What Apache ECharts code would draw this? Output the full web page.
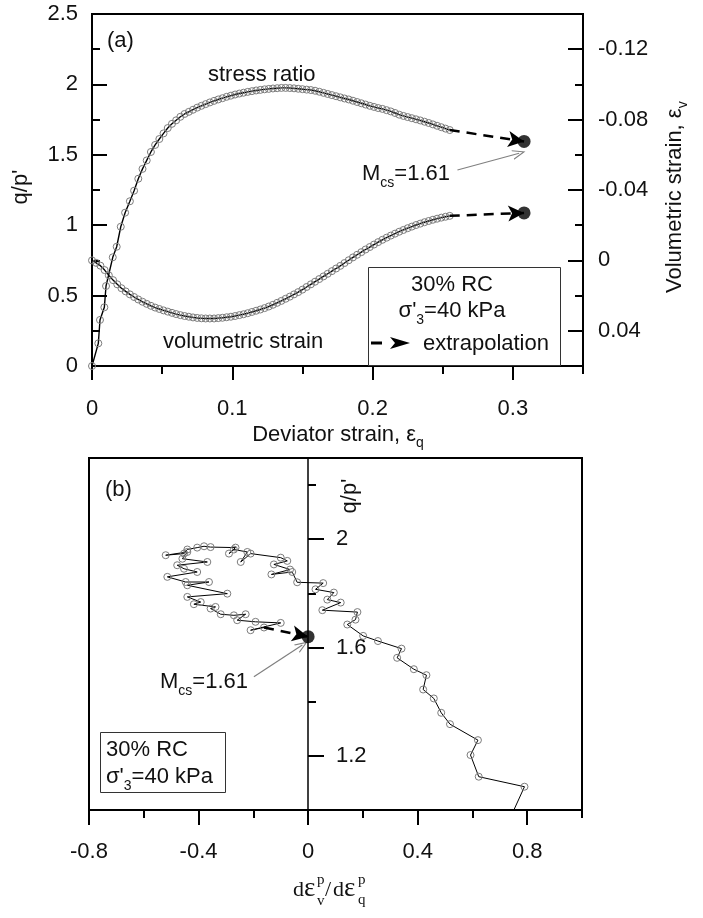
<!DOCTYPE html>
<html>
<head>
<meta charset="utf-8">
<script src="https://cdn.jsdelivr.net/npm/echarts@6/dist/echarts.min.js"></script>
<style>
  html, body { margin: 0; padding: 0; background: #fff; }
  #chart { width: 703px; height: 918px; }
</style>
</head>
<body>
<div id="chart"></div>
<script>
// ---- panel (a): stress ratio vs deviator strain
var ratioStrain = [0, 0.0045, 0.0057, 0.0088, 0.0100, 0.0148, 0.0176, 0.0205, 0.0236,
  0.027, 0.030, 0.033, 0.036, 0.039, 0.042, 0.045, 0.048, 0.051, 0.054, 0.057, 0.060,
  0.063, 0.066, 0.069, 0.072, 0.075, 0.078, 0.081, 0.084, 0.087, 0.090, 0.093, 0.096,
  0.099, 0.102, 0.105, 0.108, 0.111, 0.114, 0.117, 0.120, 0.123, 0.126, 0.129, 0.132,
  0.135, 0.138, 0.141, 0.144, 0.147, 0.150, 0.153, 0.156, 0.159, 0.162, 0.165, 0.168,
  0.171, 0.174, 0.177, 0.180, 0.183, 0.186, 0.189, 0.192, 0.195, 0.198, 0.201, 0.204,
  0.207, 0.210, 0.213, 0.216, 0.219, 0.222, 0.225, 0.228, 0.231, 0.234, 0.237, 0.240,
  0.243, 0.246, 0.249, 0.252, 0.255];
var ratioValue = [0, 0.161, 0.327, 0.417, 0.568, 0.772, 0.847, 0.989, 1.089,
  1.170, 1.245, 1.330, 1.400, 1.460, 1.520, 1.570, 1.612, 1.652, 1.690, 1.720, 1.745,
  1.770, 1.790, 1.805, 1.820, 1.835, 1.848, 1.860, 1.872, 1.883, 1.893, 1.902, 1.912,
  1.920, 1.928, 1.935, 1.941, 1.947, 1.952, 1.957, 1.961, 1.965, 1.968, 1.971, 1.973,
  1.975, 1.975, 1.974, 1.972, 1.969, 1.966, 1.963, 1.960, 1.955, 1.948, 1.940, 1.932,
  1.924, 1.916, 1.908, 1.900, 1.893, 1.884, 1.875, 1.866, 1.857, 1.848, 1.840, 1.832,
  1.826, 1.817, 1.808, 1.797, 1.785, 1.776, 1.768, 1.760, 1.752, 1.744, 1.735, 1.726,
  1.716, 1.706, 1.696, 1.686, 1.676];

// volumetric strain vs deviator strain (right axis)
var volStrainQ = [0, 0.003, 0.006, 0.009, 0.012, 0.015, 0.018, 0.021, 0.024, 0.027,
  0.030, 0.033, 0.036, 0.039, 0.042, 0.045, 0.048, 0.051, 0.054, 0.057, 0.060,
  0.063, 0.066, 0.069, 0.072, 0.075, 0.078, 0.081, 0.084, 0.087, 0.090, 0.093, 0.096,
  0.099, 0.102, 0.105, 0.108, 0.111, 0.114, 0.117, 0.120, 0.123, 0.126, 0.129, 0.132,
  0.135, 0.138, 0.141, 0.144, 0.147, 0.150, 0.153, 0.156, 0.159, 0.162, 0.165, 0.168,
  0.171, 0.174, 0.177, 0.180, 0.183, 0.186, 0.189, 0.192, 0.195, 0.198, 0.201, 0.204,
  0.207, 0.210, 0.213, 0.216, 0.219, 0.222, 0.225, 0.228, 0.231, 0.234, 0.237, 0.240,
  0.243, 0.246, 0.249, 0.252, 0.255];
var volStrainV = [0, 0.0014, 0.0030, 0.0055, 0.0085, 0.0112, 0.0136, 0.0158, 0.0176, 0.0193,
  0.0208, 0.0222, 0.0235, 0.0247, 0.0258, 0.0268, 0.0276, 0.0284, 0.0291, 0.0298, 0.0305,
  0.0311, 0.0316, 0.0320, 0.0324, 0.0327, 0.0329, 0.0330, 0.0330, 0.0330, 0.0328, 0.0326, 0.0323,
  0.0320, 0.0316, 0.0311, 0.0306, 0.0300, 0.0293, 0.0286, 0.0279, 0.0271, 0.0262, 0.0252, 0.0241,
  0.0230, 0.0218, 0.0206, 0.0193, 0.0180, 0.0166, 0.0151, 0.0136, 0.0121, 0.0106, 0.0091, 0.0076,
  0.0061, 0.0046, 0.0031, 0.0015, -0.0001, -0.0017, -0.0032, -0.0047, -0.0062, -0.0076, -0.0090, -0.0104,
  -0.0117, -0.0129, -0.0141, -0.0152, -0.0163, -0.0173, -0.0183, -0.0192, -0.0201, -0.0209, -0.0217, -0.0224,
  -0.0231, -0.0237, -0.0243, -0.0248, -0.0253];

// extrapolated end states
var ratioExtrap = [[0.255, 1.676], [0.308, 1.595]];
var volExtrap = [[0.255, -0.0253], [0.308, -0.027]];

// ---- panel (b): stress ratio vs dilatancy
var dilatancy = [0.740, 0.790, 0.623, 0.593, 0.620, 0.518, 0.486, 0.459, 0.420, 0.432,
  0.386, 0.325, 0.341, 0.255, 0.201, 0.143, 0.173, 0.180, 0.052, 0.119, 0.070, 0.094,
  0.027, 0.055, -0.040, -0.058, -0.134, -0.066, -0.125, -0.076, -0.100, -0.210, -0.246,
  -0.222, -0.271, -0.289, -0.265, -0.356, -0.380, -0.405, -0.441, -0.453, -0.520, -0.441,
  -0.459, -0.368, -0.478, -0.453, -0.405, -0.514, -0.447, -0.362, -0.441, -0.295, -0.441,
  -0.392, -0.417, -0.338, -0.356, -0.319, -0.271, -0.228, -0.259, -0.192, -0.100, -0.210,
  -0.161];
var dilatancyRatio = [0.975, 1.086, 1.123, 1.203, 1.258, 1.317, 1.359, 1.412, 1.445, 1.498,
  1.520, 1.562, 1.596, 1.624, 1.643, 1.685, 1.703, 1.731, 1.738, 1.766, 1.777, 1.803,
  1.815, 1.838, 1.841, 1.879, 1.870, 1.888, 1.907, 1.920, 1.932, 1.947, 1.916,
  1.953, 1.962, 1.947, 1.969, 1.971, 1.974, 1.969, 1.962, 1.947, 1.941, 1.953,
  1.928, 1.916, 1.904, 1.891, 1.879, 1.861, 1.842, 1.842, 1.830, 1.799, 1.787,
  1.768, 1.760, 1.750, 1.744, 1.723, 1.719, 1.723, 1.701, 1.695, 1.691, 1.664,
  1.674];
var dilatancyExtrap = [[-0.161, 1.674], [0, 1.64]];

// tick positions
var aXTicks = [0, 0.1, 0.2, 0.3];
var aXMinor = [0.05, 0.15, 0.25, 0.35];
var aYTicks = [0, 0.5, 1, 1.5, 2, 2.5];
var aYMinor = [0.25, 0.75, 1.25, 1.75, 2.25];
var aVTicks = [-0.12, -0.08, -0.04, 0, 0.04];
var aVMinor = [-0.1, -0.06, -0.02, 0.02];
var bXTicks = [-0.8, -0.4, 0, 0.4, 0.8];
var bXMinor = [-0.6, -0.2, 0.2, 0.6, 1.0];
var bYTicks = [1.2, 1.6, 2];
var bYMinor = [1.4, 1.8, 2.2];

var SANS = '"Liberation Sans", Arial, sans-serif';
var SERIF = '"Liberation Serif", "Times New Roman", serif';
var INK = '#111';

function zip(xs, ys) {
  return xs.map(function (x, i) { return [x, ys[i]]; });
}
function fmt(v) { return String(+(+v).toFixed(4)); }

var measureCtx = document.createElement('canvas').getContext('2d');
function tw(s, size, fam) {
  measureCtx.font = size + 'px ' + (fam || SANS);
  return measureCtx.measureText(s).width;
}
function txt(x, y, s, size, align, fam) {
  return {
    type: 'text', x: x, y: y, silent: true,
    style: {
      text: s, font: size + 'px ' + (fam || SANS), fill: INK,
      align: align || 'left', verticalAlign: 'middle',
      textAlign: align || 'left', textVerticalAlign: 'middle'
    }
  };
}

function majorAxis(opt) {
  return {
    type: 'value', gridIndex: opt.grid, min: opt.min, max: opt.max,
    position: opt.position, inverse: !!opt.inverse, offset: opt.offset || 0,
    axisLine: { show: true, onZero: false, lineStyle: { color: '#000', width: opt.lineWidth || 2 } },
    axisTick: { show: true, inside: !!opt.inside, length: opt.tickLen || 15, customValues: opt.ticks,
      lineStyle: { color: '#000', width: 2 } },
    axisLabel: { show: true, inside: !!opt.labelInside, margin: opt.margin, customValues: opt.ticks,
      formatter: fmt, color: INK, fontSize: 22, fontFamily: SANS },
    splitLine: { show: false }
  };
}
function minorAxis(opt) {
  return {
    type: 'value', gridIndex: opt.grid, min: opt.min, max: opt.max,
    position: opt.position, inverse: !!opt.inverse, offset: opt.offset || 0,
    axisLine: { show: false, onZero: false },
    axisTick: { show: true, inside: !!opt.inside, length: 8, customValues: opt.ticks,
      lineStyle: { color: '#000', width: 2 } },
    axisLabel: { show: false },
    splitLine: { show: false }
  };
}

var circleStyle = { color: 'transparent', borderColor: '#7c7c7c', borderWidth: 1 };
var greyArrow = 'path://M5,0 L10,11 L8.8,11 L5,2.6 L1.2,11 L0,11 Z';

function endDot(xi, yi, point, from, pointer) {
  var lines = [[{ coord: from }, { coord: point }]];
  if (pointer) {
    var grey = { color: '#808080', width: 1.2, type: 'solid' };
    lines.push([
      { coord: pointer[0], symbol: 'none', lineStyle: grey },
      { coord: pointer[1], symbol: greyArrow, symbolSize: [10, 13], lineStyle: grey }
    ]);
  }
  return {
    type: 'scatter', xAxisIndex: xi, yAxisIndex: yi, data: [point],
    symbol: 'circle', symbolSize: 13, itemStyle: { color: '#000' }, z: 5,
    silent: true,
    markLine: {
      silent: true, animation: false, symbol: ['none', 'arrow'], symbolSize: [12, 16],
      label: { show: false },
      lineStyle: { color: '#000', width: 2.5, type: [10, 7] },
      data: lines
    }
  };
}

// ---- annotation graphics
var graphics = [];
graphics.push(txt(107, 41, '(a)', 22));
graphics.push(txt(208, 75, 'stress ratio', 22));
graphics.push(txt(163, 342, 'volumetric strain', 22));

function mcs(x, yc) {
  var w1 = tw('M', 22), w2 = tw('cs', 14);
  graphics.push(txt(x, yc, 'M', 22));
  graphics.push(txt(x + w1, yc + 9, 'cs', 14));
  graphics.push(txt(x + w1 + w2, yc, '=1.61', 22));
}
mcs(362, 174);
mcs(160, 682);

// legend box (a)
graphics.push({ type: 'rect', shape: { x: 368.5, y: 267.5, width: 192, height: 98 },
  style: { fill: '#fff', stroke: '#333', lineWidth: 1 }, z: 10 });
function sigmaLine(x, yc, center) {
  var w1 = tw("σ'", 22), w2 = tw('3', 14), w3 = tw('=40 kPa', 22);
  var x0 = center ? x - (w1 + w2 + w3) / 2 : x;
  var out = [txt(x0, yc, "σ'", 22), txt(x0 + w1, yc + 9, '3', 14), txt(x0 + w1 + w2, yc, '=40 kPa', 22)];
  out.forEach(function (e) { e.z = 11; graphics.push(e); });
}
var t1 = txt(452, 285, '30% RC', 22, 'center'); t1.z = 11; graphics.push(t1);
sigmaLine(452, 311, true);
graphics.push({ type: 'line', shape: { x1: 371, y1: 343, x2: 382, y2: 343 },
  style: { stroke: '#000', lineWidth: 3 }, z: 11 });
graphics.push({ type: 'polygon', shape: { points: [[390, 337], [410, 343], [390, 349], [395, 343]] },
  style: { fill: '#000' }, z: 11 });
var t2 = txt(423, 344, 'extrapolation', 22); t2.z = 11; graphics.push(t2);

// legend box (b)
graphics.push({ type: 'rect', shape: { x: 100.5, y: 732.5, width: 125, height: 60 },
  style: { fill: '#fff', stroke: '#333', lineWidth: 1 }, z: 10 });
var t3 = txt(106, 750, '30% RC', 22); t3.z = 11; graphics.push(t3);
sigmaLine(106, 777, false);
graphics.push(txt(105, 490, '(b)', 22));

// axis names (a)
graphics.push({ type: 'group', x: 21, y: 187, rotation: Math.PI / 2,
  children: [txt(0, 0, "q/p'", 22, 'center')] });
(function () {
  var main = 'Volumetric strain, ε', w = tw(main, 22);
  graphics.push({ type: 'group', x: 675, y: 293, rotation: Math.PI / 2,
    children: [txt(0, 0, main, 22), txt(w, 8, 'v', 14)] });
  var mainX = 'Deviator strain, ε', wx = tw(mainX, 22), ws = tw('q', 14);
  var x0 = 338 - (wx + ws) / 2;
  graphics.push(txt(x0, 435, mainX, 22));
  graphics.push(txt(x0 + wx, 443, 'q', 14));
})();

// axis names (b)
graphics.push({ type: 'group', x: 350, y: 496, rotation: Math.PI / 2,
  children: [txt(0, 0, "q/p'", 22, 'center')] });
graphics.push(txt(293, 890, 'd', 22, 'left', SERIF));
graphics.push(txt(304, 889, 'ε', 27, 'left', SERIF));
graphics.push(txt(317, 880, 'p', 15, 'left', SERIF));
graphics.push(txt(317, 901, 'v', 15, 'left', SERIF));
graphics.push(txt(325, 890, '/', 22, 'left', SERIF));
graphics.push(txt(333, 890, 'd', 22, 'left', SERIF));
graphics.push(txt(344, 889, 'ε', 27, 'left', SERIF));
graphics.push(txt(358, 880, 'p', 15, 'left', SERIF));
graphics.push(txt(358, 900, 'q', 15, 'left', SERIF));

var option = {
  animation: false,
  backgroundColor: '#fff',
  grid: [
    { left: 92, top: 14, width: 491, height: 352, show: true, borderColor: '#000', borderWidth: 2, backgroundColor: 'transparent' },
    { left: 89, top: 458, width: 493, height: 352, show: true, borderColor: '#000', borderWidth: 2, backgroundColor: 'transparent' }
  ],
  xAxis: [
    majorAxis({ grid: 0, min: 0, max: 0.35, position: 'bottom', ticks: aXTicks, tickLen: 14, margin: 32 }),
    minorAxis({ grid: 0, min: 0, max: 0.35, position: 'bottom', ticks: aXMinor }),
    majorAxis({ grid: 1, min: -0.8, max: 1.0, position: 'bottom', ticks: bXTicks, tickLen: 15, margin: 31 }),
    minorAxis({ grid: 1, min: -0.8, max: 1.0, position: 'bottom', ticks: bXMinor })
  ],
  yAxis: [
    majorAxis({ grid: 0, min: 0, max: 2.5, position: 'left', inside: true, ticks: aYTicks, margin: 14 }),
    minorAxis({ grid: 0, min: 0, max: 2.5, position: 'left', inside: true, ticks: aYMinor }),
    majorAxis({ grid: 0, min: -0.14, max: 0.06, position: 'right', inverse: true, inside: true, ticks: aVTicks, margin: 15 }),
    minorAxis({ grid: 0, min: -0.14, max: 0.06, position: 'right', inverse: true, inside: true, ticks: aVMinor }),
    // vertical axis of panel (b) sits at zero dilatancy (x = 0 -> 219 px right of grid edge)
    majorAxis({ grid: 1, min: 1.0, max: 2.3, position: 'left', offset: -219, inside: true, labelInside: true,
      ticks: bYTicks, tickLen: 16, margin: 28, lineWidth: 1.5 }),
    minorAxis({ grid: 1, min: 1.0, max: 2.3, position: 'left', offset: -219, inside: true, ticks: bYMinor })
  ],
  series: [
    {
      name: 'stress ratio', type: 'line', xAxisIndex: 0, yAxisIndex: 0,
      data: zip(ratioStrain, ratioValue),
      symbol: 'circle', symbolSize: 7, showAllSymbol: true,
      itemStyle: circleStyle, lineStyle: { color: '#000', width: 1.4 }, silent: true
    },
    {
      name: 'volumetric strain', type: 'line', xAxisIndex: 0, yAxisIndex: 2,
      data: zip(volStrainQ, volStrainV),
      symbol: 'circle', symbolSize: 7, showAllSymbol: true,
      itemStyle: circleStyle, lineStyle: { color: '#000', width: 1.4 }, silent: true
    },
    endDot(0, 0, ratioExtrap[1], ratioExtrap[0], [[0.2605, 1.392], [0.3045, 1.511]]),
    endDot(0, 2, volExtrap[1], volExtrap[0], null),
    {
      name: 'dilatancy', type: 'line', xAxisIndex: 2, yAxisIndex: 4,
      data: zip(dilatancy, dilatancyRatio), clip: true,
      symbol: 'circle', symbolSize: 7, showAllSymbol: true,
      itemStyle: circleStyle, lineStyle: { color: '#000', width: 1 }, silent: true
    },
    endDot(2, 4, dilatancyExtrap[1], dilatancyExtrap[0], [[-0.198, 1.492], [-0.021, 1.609]])
  ],
  graphic: { elements: graphics }
};

var chart = echarts.init(document.getElementById('chart'), null, { renderer: 'canvas' });
chart.setOption(option);
</script>
</body>
</html>
